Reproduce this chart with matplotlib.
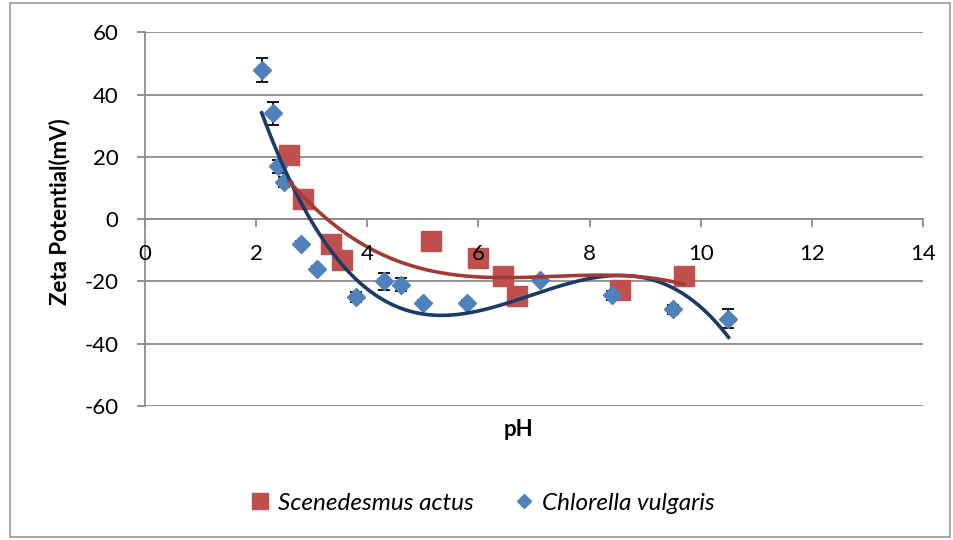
import numpy as np
import matplotlib.pyplot as plt
from matplotlib.patches import Rectangle

plt.rcParams['font.family'] = ['Lato', 'DejaVu Sans']
plt.rcParams['axes.unicode_minus'] = False

# Scenedesmus actus
ph_s = [2.6, 2.85, 3.35, 3.55, 5.15, 6.0, 6.45, 6.7, 8.55, 9.7]
zeta_s = [20.7, 6.5, -8, -13, -7, -12.5, -18.4, -24.6, -22.7, -18.2]

# Chlorella vulgaris
ph_c = [2.1, 2.3, 2.4, 2.5, 2.8, 3.1, 3.8, 4.3, 4.6, 5.0, 5.8, 7.1, 8.4, 9.5, 10.5]
zeta_c = [48, 34, 17, 12, -8, -16, -25, -20, -21, -27, -27, -19.5, -24.5, -29, -32]
err_c = [3.8, 3.6, 2.0, 1.5, 1.0, 1.0, 1.5, 2.7, 2.0, 1.0, 1.0, 1.0, 1.5, 1.5, 3.0]

red = '#C0504D'
blue = '#4F81BD'
red_line = '#A23A36'
blue_line = '#1B3A66'
grid = '#8C8C8C'

fig = plt.figure(figsize=(9.54, 5.4), dpi=100)
ax = fig.add_axes([145/954, 1-406/540, (923-145)/954, (406-32.4)/540])

ax.errorbar(ph_c, zeta_c, yerr=err_c, fmt='none', ecolor='black',
            elinewidth=1.3, capsize=4.3, capthick=1.3, zorder=2)
ax.plot(ph_s, zeta_s, 's', color=red, markersize=14.5, mec=red, zorder=3,
        label='Scenedesmus actus')
ax.plot(ph_c, zeta_c, 'D', color=blue, markersize=9.2, mec=blue, zorder=4,
        label='Chlorella vulgaris')

# cubic trendlines like Excel
xs = np.linspace(min(ph_c), max(ph_c), 200)
ax.plot(xs, np.polyval(np.polyfit(ph_c, zeta_c, 3), xs), color=blue_line, lw=2.6, zorder=5)
xr = np.linspace(min(ph_s), max(ph_s), 200)
ax.plot(xr, np.polyval(np.polyfit(ph_s, zeta_s, 3), xr), color=red_line, lw=2.6, zorder=6)

ax.set_xlim(0, 14)
ax.set_ylim(-60, 60)
ax.set_xticks(range(0, 15, 2))
ax.set_yticks(range(-60, 61, 20))
ax.yaxis.grid(True, color=grid, lw=1.3)
ax.set_axisbelow(True)
ax.xaxis.set_zorder(10)  # tick labels sit on top of the markers

ax.spines['bottom'].set_position(('data', 0))
ax.spines['top'].set_visible(False)
ax.spines['right'].set_visible(False)
for s in ['bottom', 'left']:
    ax.spines[s].set_color(grid)
    ax.spines[s].set_linewidth(1.3)
ax.tick_params(axis='x', direction='out', length=6, width=1.3, color=grid,
               pad=12, labelsize=16)
ax.tick_params(axis='y', direction='out', length=6, width=1.3, color=grid,
               pad=13, labelsize=16)

fig.text(60/954, 1-212/540, 'Zeta Potential(mV)', rotation=90, fontsize=16,
         fontweight='bold', ha='center', va='center')
fig.text(518/954, 1-429/540, 'pH', fontsize=16, fontweight='bold',
         ha='center', va='center')

leg = fig.legend(loc='center', bbox_to_anchor=(482/954, 1-503/540), ncol=2,
                 frameon=False, prop={'style': 'italic', 'size': 17.5},
                 handletextpad=0.3, columnspacing=1.6, handlelength=0.9,
                 markerscale=0.8)

fig.patches.append(Rectangle((10/954, 3/540), 940/954, 534/540,
                             transform=fig.transFigure, fill=False,
                             edgecolor='#999999', lw=1.2))

fig.savefig('out.png', dpi=100)
